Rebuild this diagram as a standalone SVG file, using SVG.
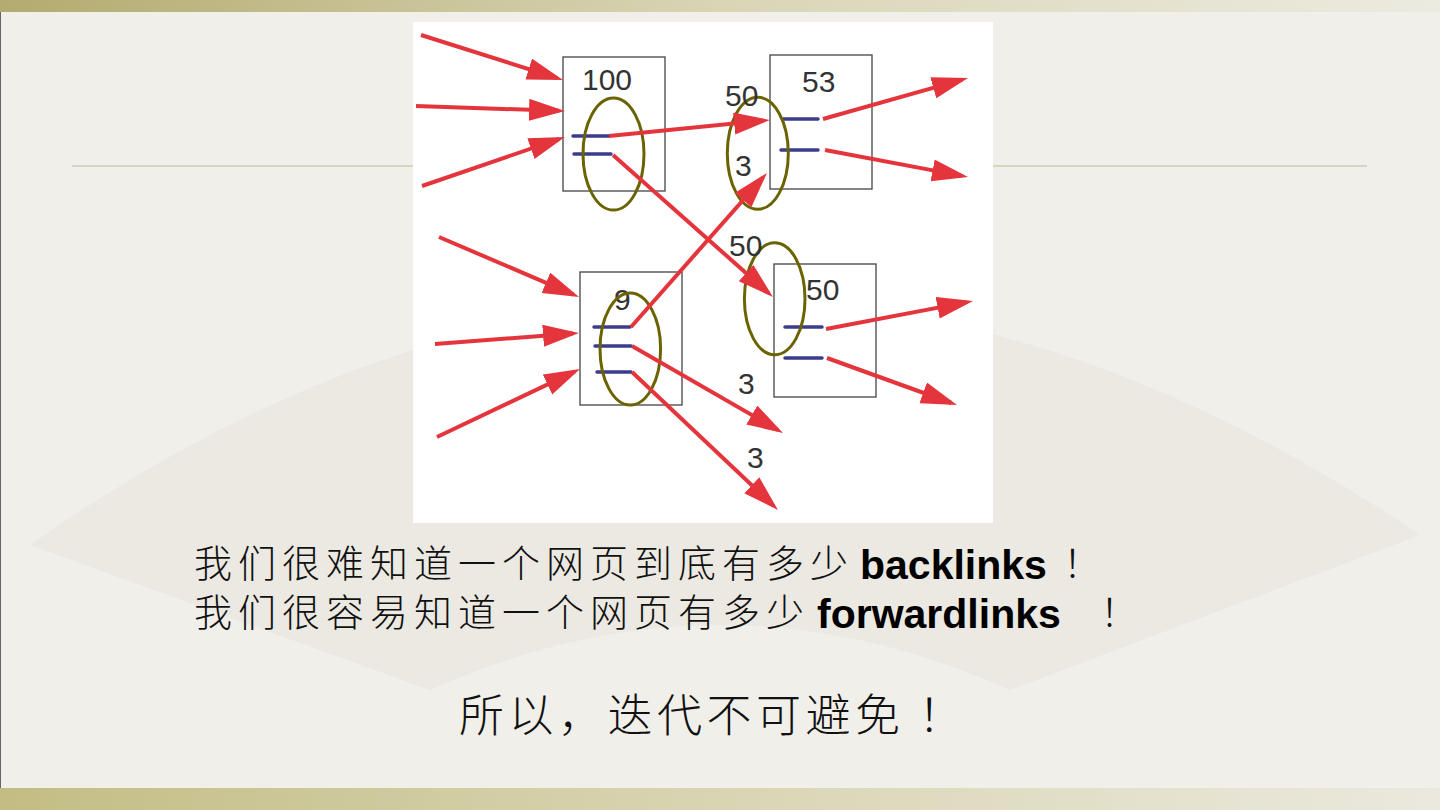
<svg xmlns="http://www.w3.org/2000/svg" width="1440" height="810" viewBox="0 0 1440 810">
<defs>
<linearGradient id="topbar" x1="0" y1="0" x2="1" y2="0">
<stop offset="0" stop-color="#b3ab6f"/><stop offset="0.5" stop-color="#d9d5b5"/><stop offset="1" stop-color="#ecebe0"/>
</linearGradient>
<linearGradient id="botbar" x1="0" y1="0" x2="1" y2="0">
<stop offset="0" stop-color="#c3bd84"/><stop offset="0.5" stop-color="#d9d5b3"/><stop offset="1" stop-color="#ebe9de"/>
</linearGradient>
<marker id="ah" markerUnits="userSpaceOnUse" markerWidth="42" markerHeight="26" refX="30" refY="11" orient="auto">
<path d="M0,0 L36,11 L0,22 z" fill="#e5353c"/>
</marker>
<style>
.box{fill:none;stroke:#444;stroke-width:1.3}
.num{font-family:"Liberation Sans",Arial,sans-serif;font-size:30px;fill:#333}
.bl{stroke:#3c3c8c;stroke-width:3.5;stroke-linecap:round}
.ov{fill:none;stroke:#6b6300;stroke-width:3}
.ar{stroke:#e5353c;stroke-width:4;fill:none;marker-end:url(#ah)}
.cjk{font-family:"Noto Sans CJK SC",sans-serif;font-weight:300;fill:#111}
.lat{font-family:"Liberation Sans",Arial,sans-serif;font-weight:bold;font-size:41px;fill:#000}
</style>
</defs>
<rect width="1440" height="810" fill="#f0efe9"/>
<path d="M30,545 Q720,60 1420,535 L1010,690 Q720,560 430,690 Z" fill="#e4e2da" opacity="0.45"/>
<rect x="0" y="0" width="1440" height="12" fill="url(#topbar)"/>
<rect x="0" y="788" width="1440" height="22" fill="url(#botbar)"/>
<line x1="0.5" y1="12" x2="0.5" y2="788" stroke="#666" stroke-width="1"/>
<line x1="72" y1="166" x2="1367" y2="166" stroke="#cfcbb2" stroke-width="1.5"/>
<rect x="413" y="22" width="580" height="501" fill="#ffffff"/>

<g id="node-100">
<rect class="box" x="563" y="57" width="102" height="134"/>
<text class="num" x="582" y="90">100</text>
<line class="bl" x1="573" y1="136" x2="609" y2="136"/>
<line class="bl" x1="574" y1="154" x2="611" y2="154"/>
<ellipse class="ov" cx="613.5" cy="154" rx="30.5" ry="56"/>
</g>
<g id="node-53">
<rect class="box" x="770" y="55" width="102" height="134"/>
<text class="num" x="802" y="92">53</text>
<line class="bl" x1="783" y1="119" x2="818" y2="119"/>
<line class="bl" x1="781" y1="150" x2="818" y2="150"/>
<ellipse class="ov" cx="757.8" cy="153.3" rx="30.5" ry="56"/>
</g>
<g id="node-9">
<rect class="box" x="580" y="272" width="102" height="133"/>
<text class="num" x="614" y="310">9</text>
<line class="bl" x1="594" y1="327" x2="630" y2="327"/>
<line class="bl" x1="595" y1="346" x2="631" y2="346"/>
<line class="bl" x1="597" y1="372" x2="631" y2="372"/>
<ellipse class="ov" cx="630.3" cy="349" rx="30.3" ry="56"/>
</g>
<g id="node-50">
<rect class="box" x="774" y="264" width="102" height="133"/>
<text class="num" x="806" y="300">50</text>
<line class="bl" x1="785" y1="327" x2="822" y2="327"/>
<line class="bl" x1="785" y1="358" x2="822" y2="358"/>
<ellipse class="ov" cx="774.7" cy="298.8" rx="30.3" ry="56"/>
</g>

<g id="connectors">
<line class="ar" x1="421" y1="35" x2="557.3" y2="78.2"/>
<line class="ar" x1="416" y1="106" x2="559" y2="110.8"/>
<line class="ar" x1="422" y1="186" x2="559.3" y2="138.9"/>
<line class="ar" x1="609" y1="136" x2="764" y2="120.6"/>
<line class="ar" x1="613" y1="155" x2="768.5" y2="293"/>
<line class="ar" x1="631" y1="327" x2="763" y2="177.5"/>
<line class="ar" x1="632" y1="346" x2="777.8" y2="430"/>
<line class="ar" x1="632" y1="372" x2="773.6" y2="505.9"/>
<line class="ar" x1="439" y1="237" x2="573.5" y2="294.6"/>
<line class="ar" x1="435" y1="344" x2="573" y2="333.5"/>
<line class="ar" x1="437" y1="437" x2="574.6" y2="371.6"/>
<line class="ar" x1="823" y1="119" x2="962.2" y2="79.6"/>
<line class="ar" x1="825" y1="150" x2="962.1" y2="175.9"/>
<line class="ar" x1="826" y1="329" x2="967.1" y2="302.1"/>
<line class="ar" x1="827" y1="358" x2="951.4" y2="403"/>
</g>
<g id="edge-labels">
<text class="num" x="725" y="106">50</text>
<text class="num" x="735" y="176">3</text>
<text class="num" x="729" y="256">50</text>
<text class="num" x="738" y="394">3</text>
<text class="num" x="747" y="468">3</text>
</g>

<g id="caption">
<text class="cjk" x="194" y="577" font-size="38" letter-spacing="6">我们很难知道一个网页到底有多少</text>
<text class="lat" x="860" y="579">backlinks</text>
<text class="cjk" x="1063" y="577" font-size="38">！</text>
<text class="cjk" x="194" y="626" font-size="38" letter-spacing="6">我们很容易知道一个网页有多少</text>
<text class="lat" x="817" y="628">forwardlinks</text>
<text class="cjk" x="1100" y="626" font-size="38">！</text>
<text class="cjk" x="459" y="732" font-size="45" letter-spacing="4.5">所以，迭代不可避免</text>
<text class="cjk" x="918" y="732" font-size="45">！</text>
</g>
</svg>
